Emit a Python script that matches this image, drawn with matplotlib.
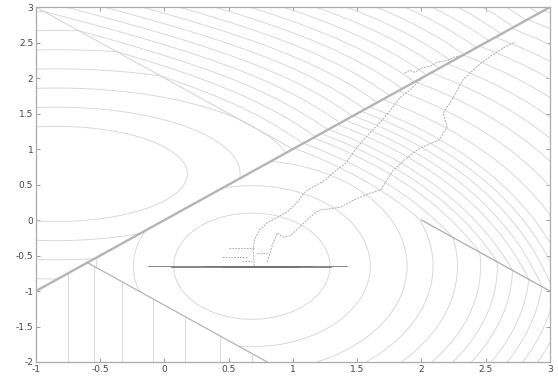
import numpy as np
import matplotlib
matplotlib.use("Agg")
import matplotlib.pyplot as plt

# plot window and ticks
x_lim = [-1, 3]
y_lim = [-2, 3]
x_ticks = [-1, -0.5, 0, 0.5, 1, 1.5, 2, 2.5, 3]
x_tick_labels = ["-1", "-0.5", "0", "0.5", "1", "1.5", "2", "2.5", "3"]
y_ticks = [-2, -1.5, -1, -0.5, 0, 0.5, 1, 1.5, 2, 2.5, 3]
y_tick_labels = ["-2", "-1.5", "-1", "-0.5", "0", "0.5", "1", "1.5", "2", "2.5", "3"]

# pieces of the objective: y = x splits upper/lower, x + y = kink_sum is a kink,
# x + y < cut_sum (below y = x) is the block that depends on x only
kink_sum = 2.0
cut_sum = -1.2

upper_center = [-0.84, 0.65]
upper_xscale = 1.52
upper_kink_slope = 2.8
upper_levels = [0.67, 0.94, 1.21, 1.48, 1.75, 2.02, 2.29, 2.56, 2.83, 3.10,
                3.37, 3.64, 3.91, 4.18, 4.45, 4.72, 4.99, 5.26, 5.53, 5.80,
                6.07, 6.34, 6.61, 6.88]

lower_center = [0.68, -0.65]
lower_yscale = 1.23
lower_kink_slope = 8.0
lower_levels = [0.37, 0.85, 1.46, 1.99, 2.56, 3.17, 3.65, 4.12, 4.67, 5.15,
                5.65, 6.15, 6.65, 7.5, 8.5, 9.5, 10.5, 11.5, 12.5, 13.5,
                14.5, 15.5, 16.5, 17.5, 18.5]

block_levels = [-0.75, -0.55, -0.33, -0.09, 0.16, 0.43, 0.68]

# visible boundary pieces (x extents)
diag_x = [-1, 3]
kink_upper_x = [-1, 1]
kink_lower_x = [2, 3]
cut_x = [-0.6, 0.8]

# iterates of the two runs
path_a_x = [0.70, 0.69, 0.70, 0.74, 0.80, 0.88, 0.95, 1.03, 1.09, 1.16, 1.25,
            1.31, 1.41, 1.50, 1.60, 1.68, 1.76, 1.83, 1.91, 1.97, 2.01]
path_a_y = [-0.65, -0.42, -0.28, -0.14, -0.04, 0.04, 0.11, 0.24, 0.39, 0.47,
            0.56, 0.66, 0.80, 1.03, 1.23, 1.38, 1.55, 1.72, 1.83, 1.94, 2.00]

path_b_x = [0.80, 0.84, 0.88, 0.92, 0.98, 1.05, 1.11, 1.17, 1.21, 1.37, 1.47,
            1.60, 1.68, 1.78, 1.87, 1.97, 2.01, 2.14, 2.20, 2.17, 2.25, 2.32,
            2.43, 2.53, 2.65, 2.73]
path_b_y = [-0.59, -0.35, -0.18, -0.24, -0.22, -0.10, 0.00, 0.10, 0.14, 0.18,
            0.28, 0.38, 0.42, 0.70, 0.85, 0.99, 1.03, 1.13, 1.31, 1.51, 1.73,
            1.97, 2.16, 2.30, 2.44, 2.51]

path_c_x = [1.87, 1.91, 1.95, 2.00, 2.07, 2.12, 2.20, 2.26, 2.32, 2.39]
path_c_y = [2.07, 2.11, 2.08, 2.14, 2.17, 2.22, 2.25, 2.30, 2.32, 2.39]

# horizontal sweep at the minimiser's y
streak_x0 = [-0.13, 0.05, 0.30, 0.45, 0.55, 0.62, 0.58]
streak_x1 = [1.42, 1.30, 1.15, 1.05, 0.95, 0.88, 0.92]
streak_y = [-0.650, -0.658, -0.642, -0.655, -0.646, -0.650, -0.652]

# short side steps just above the sweep
dash_x0 = [0.45, 0.50, 0.72, 0.60]
dash_x1 = [0.65, 0.70, 0.80, 0.68]
dash_y = [-0.52, -0.40, -0.47, -0.58]


def upper_piece(x, y):
    return np.sqrt(((x - upper_center[0]) / upper_xscale) ** 2 + (y - upper_center[1]) ** 2)


def lower_piece(x, y):
    return (x - lower_center[0]) ** 2 + ((y - lower_center[1]) / lower_yscale) ** 2


def kinked(piece, x, y, slope):
    # past the kink: value at the foot point on x + y = kink_sum plus a linear rise
    tau = (x - y) / 2
    s = (x + y - kink_sum) / 2
    foot = piece(kink_sum / 2 + tau, kink_sum / 2 - tau)
    return np.where(s > 0, foot + slope * s, piece(x, y))


# ---- grid and piecewise function
gx = np.linspace(x_lim[0], x_lim[1], 900)
gy = np.linspace(y_lim[0], y_lim[1], 900)
X, Y = np.meshgrid(gx, gy)

f_up = kinked(upper_piece, X, Y, upper_kink_slope)
f_low = kinked(lower_piece, X, Y, lower_kink_slope)

upper_mask = Y < X
block_mask = (Y < X) & (X + Y < cut_sum)
lower_mask = ~((Y < X) & ~block_mask)

fig = plt.figure(figsize=(5.58, 3.87), dpi=100)
ax = fig.add_axes([0.0645, 0.0646, 0.921, 0.917])

cl = "#d6d6d6"
kw = dict(colors=cl, linewidths=0.65, linestyles="solid")
ax.contour(X, Y, np.ma.masked_where(upper_mask, f_up), levels=upper_levels, **kw)
ax.contour(X, Y, np.ma.masked_where(lower_mask, f_low), levels=lower_levels, **kw)
ax.contour(X, Y, np.ma.masked_where(~block_mask, X), levels=block_levels, **kw)

# boundaries
dx = np.array(diag_x)
ax.plot(dx, dx, color="#b4b4b4", lw=1.7, zorder=3)
ku = np.array(kink_upper_x)
ax.plot(ku, kink_sum - ku, color="#d2d2d2", lw=0.7)
kl = np.array(kink_lower_x)
ax.plot(kl, kink_sum - kl, color="#ababab", lw=0.9)
cx = np.array(cut_x)
ax.plot(cx, cut_sum - cx, color="#b4b4b4", lw=0.9)

# iterates
for px, py in [(path_a_x, path_a_y), (path_b_x, path_b_y), (path_c_x, path_c_y)]:
    ax.plot(px, py, color="#acacac", lw=0.7, ls=(0, (2, 1.2)), zorder=4)

for x0, x1, y in zip(streak_x0, streak_x1, streak_y):
    ax.plot([x0, x1], [y, y], color="#727272", lw=0.6, zorder=5)
for x0, x1, y in zip(dash_x0, dash_x1, dash_y):
    ax.plot([x0, x1], [y, y], color="#a0a0a0", lw=0.6, ls=(0, (2, 1.5)), zorder=5)

ax.set_xlim(x_lim)
ax.set_ylim(y_lim)
ax.set_xticks(x_ticks)
ax.set_xticklabels(x_tick_labels)
ax.set_yticks(y_ticks)
ax.set_yticklabels(y_tick_labels)
ax.tick_params(direction="in", length=3, width=0.7, colors="#999999",
               labelcolor="#444444", labelsize=6.5, top=True, right=True,
               pad=2)
for s in ax.spines.values():
    s.set_color("#aaaaaa")
    s.set_linewidth(0.9)

fig.savefig("out.png", dpi=100)
